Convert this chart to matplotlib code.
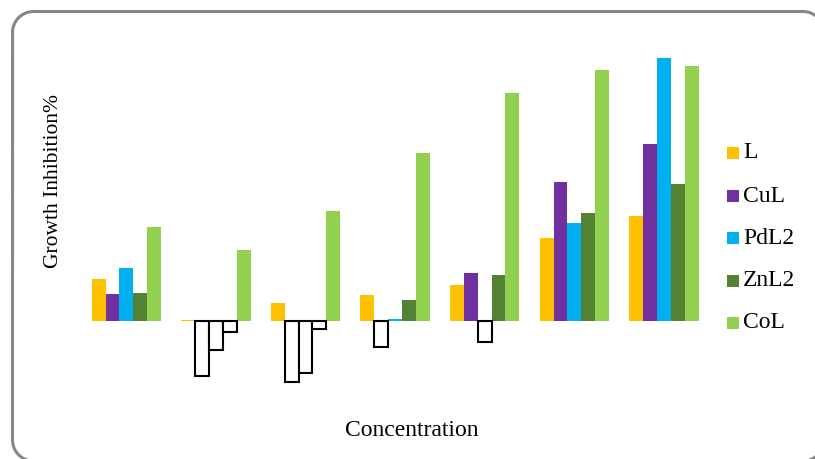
import matplotlib
matplotlib.use("Agg")
import matplotlib.pyplot as plt
from matplotlib.patches import Rectangle
import numpy as np

# Growth inhibition (%) per concentration level for each compound
series_names = ["L", "CuL", "PdL2", "ZnL2", "CoL"]
L_vals    = [15.8, 0.4, 6.8, 9.8, 13.7, 31.7, 40.0]
CuL_vals  = [10.3, -20.9, -23.1, -9.9, 18.1, 52.7, 67.3]
PdL2_vals = [20.0, -11.0, -19.8, 0.6, -7.9, 37.1, 99.8]
ZnL2_vals = [10.5, -4.1, -3.2, 8.1, 17.4, 40.9, 52.1]
CoL_vals  = [35.8, 27.0, 41.9, 64.0, 86.8, 95.3, 96.9]
colors = ["#FFC000", "#7030A0", "#00B0F0", "#548235", "#92D050"]

all_series = [L_vals, CuL_vals, PdL2_vals, ZnL2_vals, CoL_vals]

W, H = 815, 459
fig = plt.figure(figsize=(W / 100, H / 100), dpi=100)
fig.patch.set_facecolor("white")

# full-figure overlay in pixel units (y measured from the top)
bg = fig.add_axes([0, 0, 1, 1])
bg.set_xlim(0, W)
bg.set_ylim(0, H)
bg.axis("off")


def rounded_rect(l, t, r, b, rad, n=40):
    """Outline of a rounded rectangle as a polyline (pixel coords, y down)."""
    pts = []
    corners = [(r - rad, t + rad, -90, 0), (r - rad, b - rad, 0, 90),
               (l + rad, b - rad, 90, 180), (l + rad, t + rad, 180, 270)]
    for cx, cy, a0, a1 in corners:
        a = np.radians(np.linspace(a0, a1, n))
        pts.append(np.column_stack([cx + rad * np.cos(a), cy + rad * np.sin(a)]))
    pts = np.vstack(pts + [pts[0][:1]])
    return pts[:, 0], H - pts[:, 1]


fx, fy = rounded_rect(12.5, 11.5, 824, 461, 21)
bg.plot(fx, fy, color="#878787", linewidth=2.2, clip_on=False,
        solid_capstyle="round", solid_joinstyle="round")

# plot area in pixel coordinates
ax_left, ax_right = 81.5, 708.7
ax_top, ax_bottom = 50, 390
ax = fig.add_axes([ax_left / W, 1 - ax_bottom / H,
                   (ax_right - ax_left) / W, (ax_bottom - ax_top) / H])
ax.set_facecolor("none")

n_cat = len(L_vals)
x = np.arange(n_cat)
bw = 0.1547
for j, (vals, col) in enumerate(zip(all_series, colors)):
    offs = (j - 2) * bw
    for xi, v in zip(x, vals):
        if v >= 0:
            ax.bar(xi + offs, v, width=bw, color=col, edgecolor="none", zorder=2)
        else:
            ax.bar(xi + offs, v, width=bw, facecolor="white", edgecolor="black",
                   linewidth=1.5, zorder=3)

ax.set_xlim(-0.5, n_cat - 0.5)
ax.set_ylim(-26.2, 103.0)
for s in ax.spines.values():
    s.set_visible(False)
ax.set_xticks([])
ax.set_yticks([])

serif = ["Liberation Serif", "DejaVu Serif"]

# axis titles
fig.text(412 / W, 1 - 431 / H, "Concentration", family=serif, fontsize=17,
         ha="center", va="center")
fig.text(54 / W, 1 - 181 / H, "Growth Inhibition%", family=serif, fontsize=15.5,
         ha="center", va="center", rotation=90)

# legend
leg_y = [153, 196, 238, 281, 323]
for name, col, yy in zip(series_names, colors, leg_y):
    bg.add_patch(Rectangle((727, H - yy - 6), 12, 12, facecolor=col, edgecolor="none"))
    bg.text(743, H - yy, name, family=serif, fontsize=17, ha="left", va="center")

fig.savefig("out.png", dpi=100)
